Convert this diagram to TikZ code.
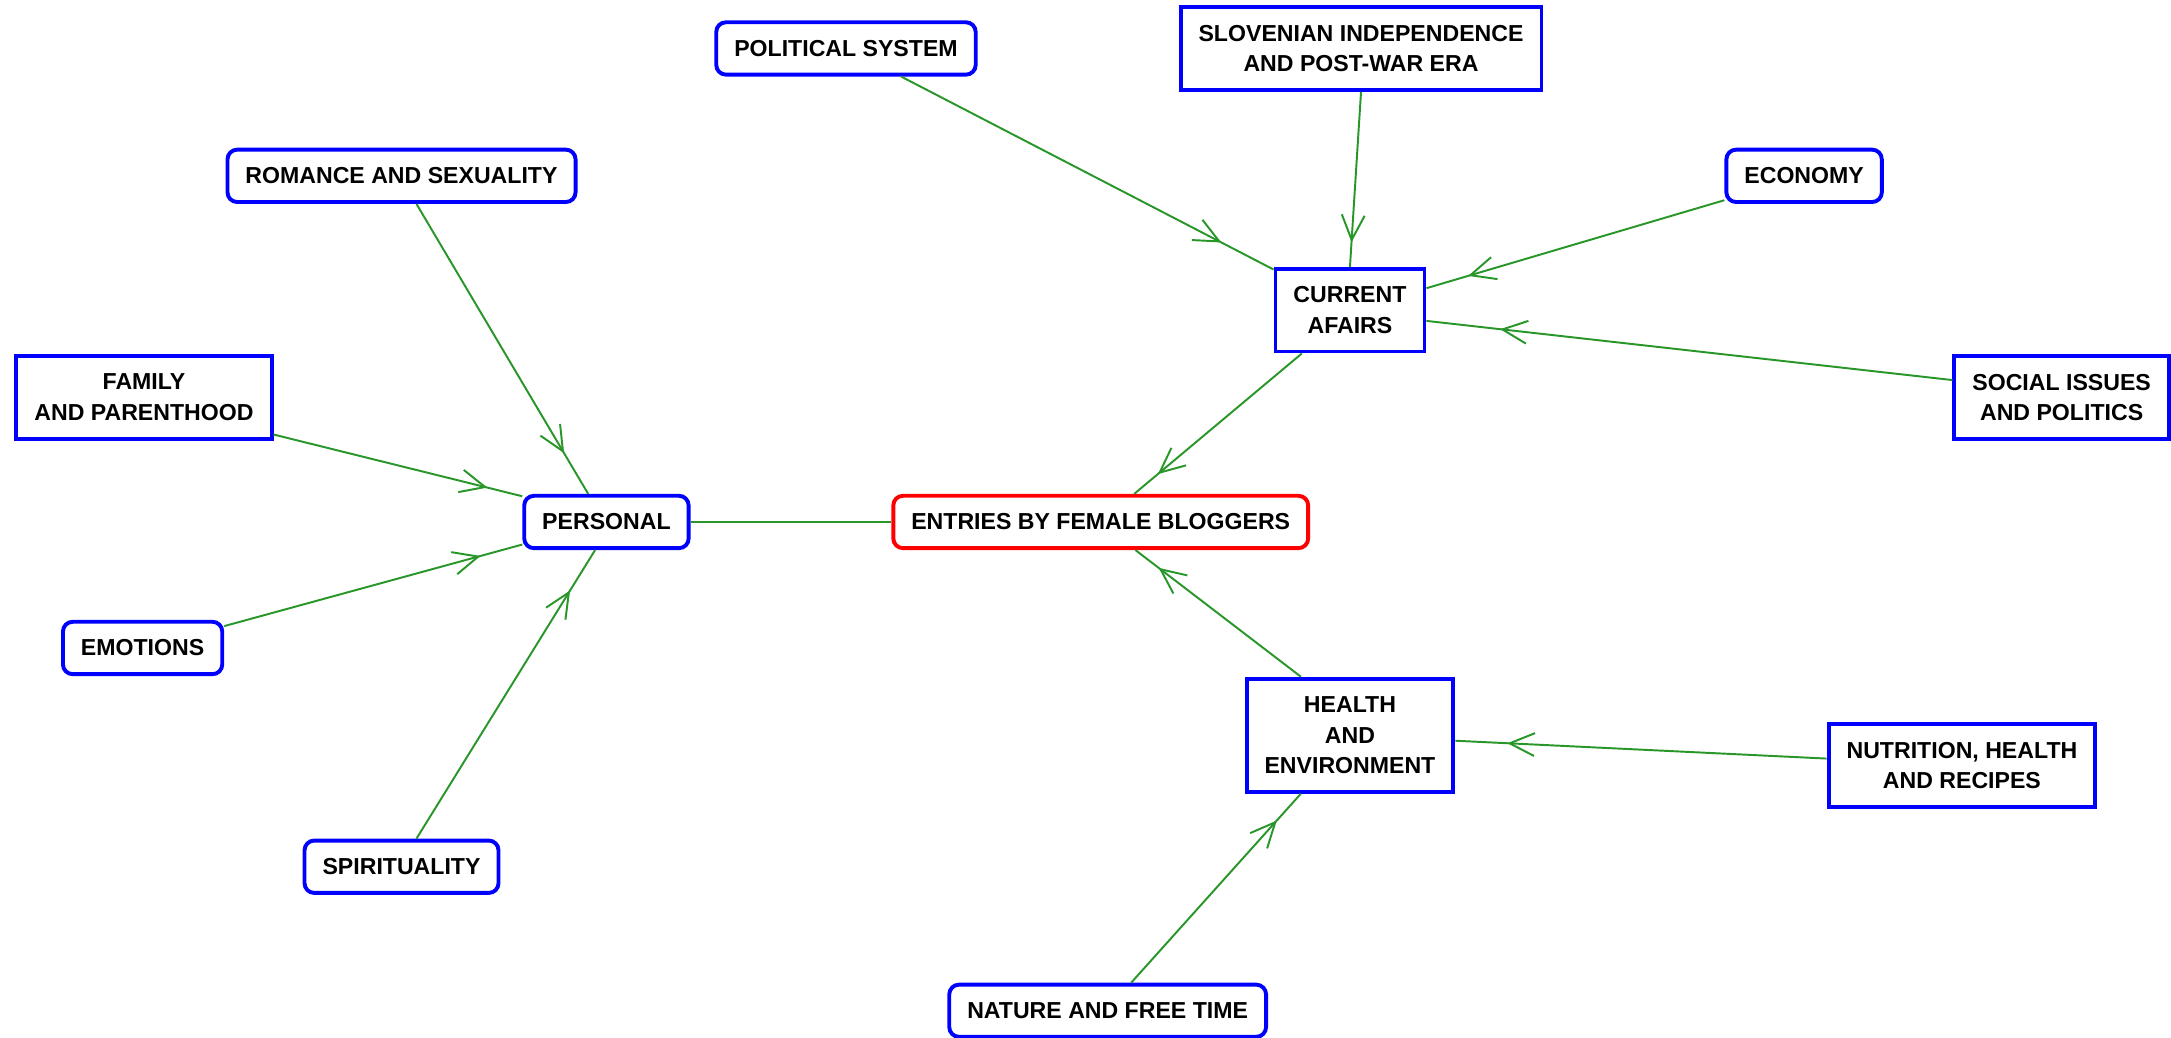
\documentclass[tikz,border=0pt]{standalone}
\usepackage{fontspec}
\setmainfont{Liberation Sans}
\usetikzlibrary{arrows.meta}
\usetikzlibrary{decorations.markings}
\definecolor{linkgreen}{RGB}{40,150,40}
\tikzset{topic/.style={draw=blue,line width=1.6pt,fill=white,rounded corners=1.4mm,inner xsep=2.6mm,inner ysep=2.6mm,align=center,font=\fontsize{9.5}{12.5}\selectfont\bfseries},
group/.style={topic,rounded corners=0pt},
root/.style={topic,draw=red},
tie/.style={linkgreen,line width=0.8pt},
link/.style={tie,decoration={markings,mark=at position 0.86 with {\arrow{Straight Barb[length=3.6mm,width=3.3mm]}}},postaction={decorate}}}

\begin{document}
\begin{tikzpicture}[x=0.2mm,y=-0.2mm]
\useasboundingbox (0,0) rectangle (1568,749);
% centre and the four groups
\node (ent) at (795,377) [root] {ENTRIES BY FEMALE BLOGGERS};
\node (pers) at (438,377) [topic] {PERSONAL};
\node (cur) at (975,224) [group] {CURRENT\\AFAIRS};
\node (hea) at (975,531) [group] {HEALTH\\AND\\ENVIRONMENT};
% topics
\node (pol) at (611,35) [topic] {POLITICAL SYSTEM};
\node (slo) at (983,35) [group] {SLOVENIAN INDEPENDENCE\\AND POST-WAR ERA};
\node (rom) at (290,127) [topic] {ROMANCE AND SEXUALITY};
\node (eco) at (1303,127) [topic] {ECONOMY};
\node (fam) at (104,287) [group] {FAMILY\\AND PARENTHOOD};
\node (soc) at (1489,287) [group] {SOCIAL ISSUES\\AND POLITICS};
\node (emo) at (103,468) [topic] {EMOTIONS};
\node (nut) at (1417,553) [group] {NUTRITION, HEALTH\\AND RECIPES};
\node (spi) at (290,626) [topic] {SPIRITUALITY};
\node (nat) at (800,730) [topic] {NATURE AND FREE TIME};
% connectors
\draw [tie] (pers.east) -- (ent.west);
\foreach \a/\b in {cur.-138/ent.40, hea.130/ent.-39, rom.-62/pers.123, fam.-16/pers.163, emo.15/pers.-165, spi.62/pers.-112, pol.-27/cur.152, slo.south/cur.north, eco.-163/cur.16, soc.171/cur.-8, nut.177/hea.-3, nat.50/hea.-130}
	\draw [link] (\a) -- (\b);
\end{tikzpicture}
\end{document}
